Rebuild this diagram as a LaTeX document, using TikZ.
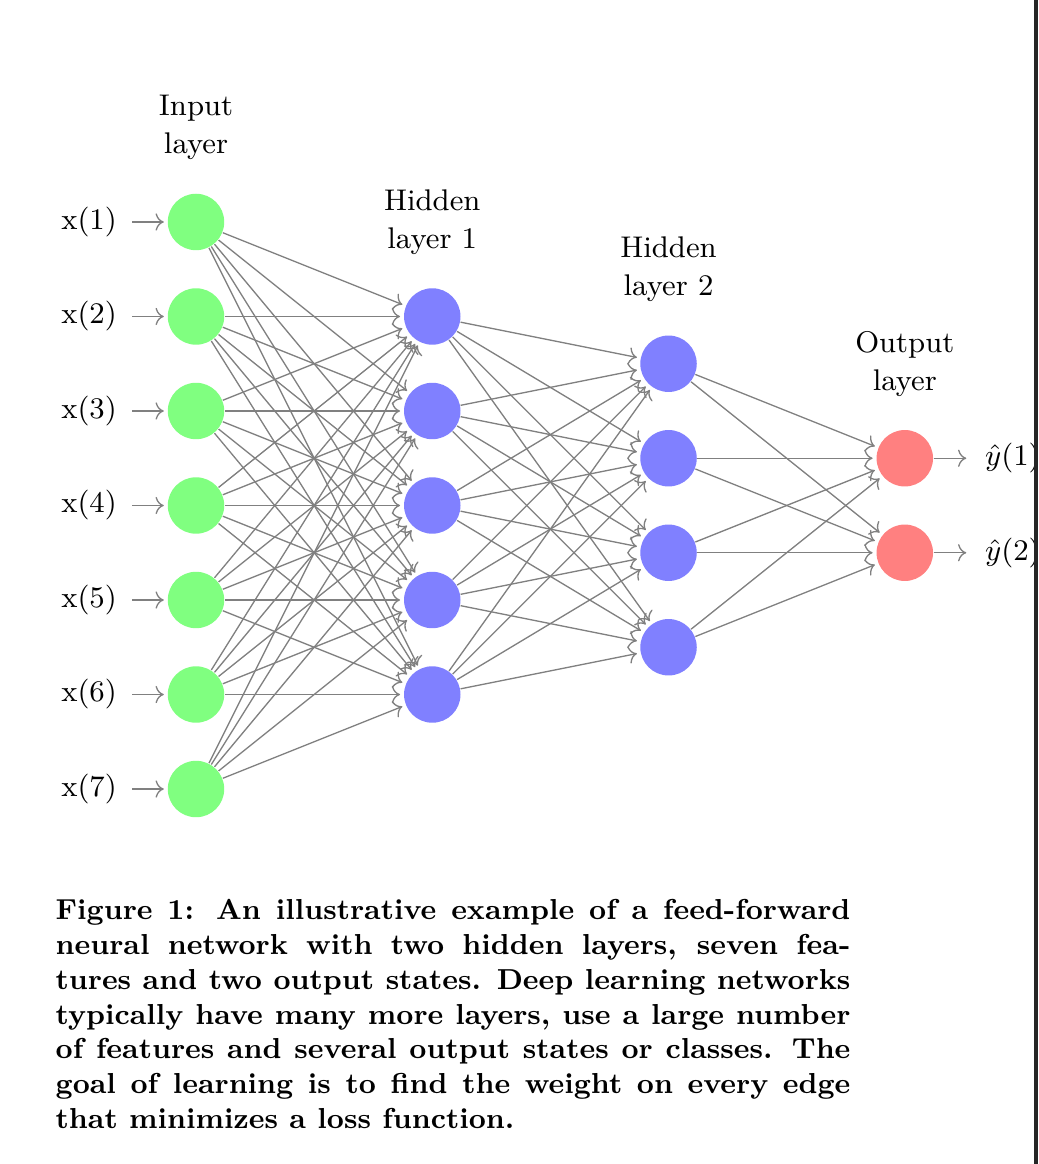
\documentclass[tikz,border=0pt]{standalone}
\usepackage{tikz}
\usetikzlibrary{arrows.meta, positioning, calc}
\usepackage{amsmath}
\definecolor{netGreen}{HTML}{80FF80}
\definecolor{netBlue}{HTML}{8080FF}
\definecolor{netRed}{HTML}{FF8080}
\definecolor{edgeGray}{HTML}{808080}
\definecolor{pageEdge}{HTML}{262626}
\tikzset{
  arrowW/.style={->, draw=edgeGray, shorten >=1pt},
  neuron/.style={circle, minimum size=17pt, inner sep=0pt},
  nodeIn/.style={neuron, fill=netGreen},
  nodeHid/.style={neuron, fill=netBlue},
  nodeOut/.style={neuron, fill=netRed},
  labelX/.style={inner sep=4.5pt, font=\fontsize{9}{11}\selectfont},
  titleL/.style={align=center, font=\fontsize{9}{11.5}\selectfont},
  captionT/.style={text width=8.41cm, align=justify, inner sep=0pt,
                   font=\fontsize{8.7}{10.45}\selectfont\bfseries},
}
\begin{document}
\begin{tikzpicture}
    \useasboundingbox (-2.074,-10.968) rectangle (8.910,1.349);
    % layers
    \foreach \i in {1,...,7}
      \node[nodeIn] (I-\i) at (0,-\i) {};
    \foreach \j in {1,...,5}
      \node[nodeHid] (H1-\j) at (2.5,-\j-1) {};
    \foreach \k in {1,...,4}
      \node[nodeHid] (H2-\k) at (5,-\k-1.5) {};
    \foreach \m in {1,2}
      \node[nodeOut] (O-\m) at (7.5,-\m-2.5) {};
    % inputs and outputs
    \foreach \i in {1,...,7} {
      \node[labelX, left=0.367cm of I-\i] (X-\i) {x(\i)};
      \draw[arrowW] (X-\i) -- (I-\i);
    }
    \foreach \m in {1,2} {
      \node[labelX, right=0.38cm of O-\m] (Y-\m) {$\hat{y}(\m)$};
      \draw[arrowW] (O-\m) -- (Y-\m);
    }
    % weights
    \foreach \i in {1,...,7}
      \foreach \j in {1,...,5}
        \draw[arrowW] (I-\i) -- (H1-\j);
    \foreach \j in {1,...,5}
      \foreach \k in {1,...,4}
        \draw[arrowW] (H1-\j) -- (H2-\k);
    \foreach \k in {1,...,4}
      \foreach \m in {1,2}
        \draw[arrowW] (H2-\k) -- (O-\m);
    % layer titles
    \node[titleL] (T-in) at ([yshift=1cm]I-1) {Input\\layer};
    \node[titleL] (T-h1) at ([yshift=1cm]H1-1) {Hidden\\layer 1};
    \node[titleL] (T-h2) at ([yshift=1cm]H2-1) {Hidden\\layer 2};
    \node[titleL] (T-out) at ([yshift=1cm]O-1) {Output\\layer};
    % caption
    \node[captionT, anchor=base west] (cap) at (-1.492,-8.386)
      {Figure 1: An illustrative example of a feed-forward\linebreak
       neural network with two hidden layers, seven fea-\linebreak
       tures and two output states.  Deep learning networks\linebreak
       typically have many more layers, use a large number\linebreak
       of features and several output states or classes.  The\linebreak
       goal of learning is to find the weight on every edge\linebreak
       that minimizes a loss function.};
    \fill[pageEdge] (8.868,-10.968) rectangle (8.910,1.349);
  \end{tikzpicture}
\end{document}
